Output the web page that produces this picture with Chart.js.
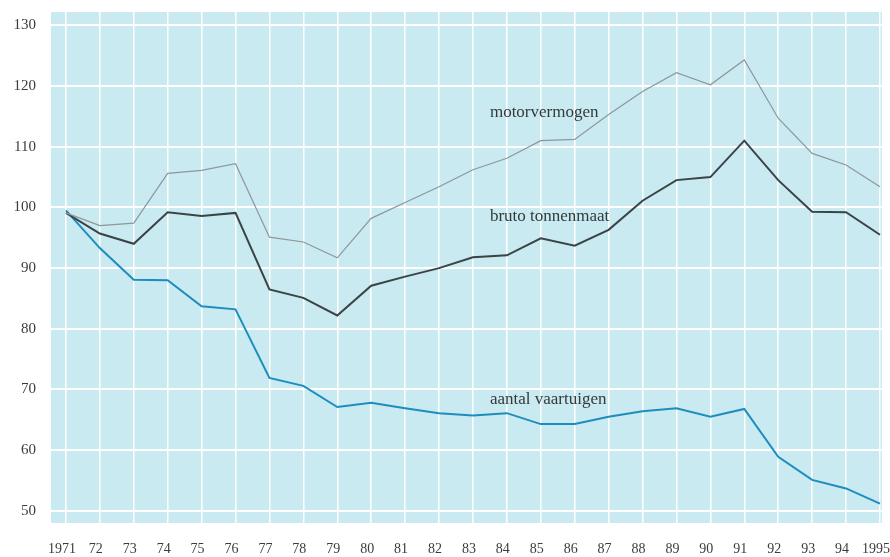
<!DOCTYPE html>
<html>
<head>
<meta charset="utf-8">
<script src="https://cdn.jsdelivr.net/npm/chart.js@4/dist/chart.umd.min.js"></script>
<style>
html,body{margin:0;padding:0;background:#fff;}
#wrap{width:890px;height:557px;position:relative;}
</style>
</head>
<body>
<div id="wrap"><canvas id="c"></canvas></div>
<script>
const years = [1971,1972,1973,1974,1975,1976,1977,1978,1979,1980,1981,1982,1983,1984,1985,1986,1987,1988,1989,1990,1991,1992,1993,1994,1995];
const motorvermogen = [99.1,97.0,97.4,105.6,106.1,107.2,95.1,94.3,91.7,98.2,100.8,103.4,106.2,108.1,111.0,111.2,115.3,119.1,122.2,120.2,124.3,114.7,108.9,107.0,103.4];
const brutoTonnenmaat = [99.1,95.7,94.0,99.2,98.6,99.1,86.5,85.1,82.2,87.1,88.6,90.0,91.8,92.1,94.9,93.7,96.3,101.1,104.5,105.0,111.0,104.5,99.3,99.2,95.5];
const aantalVaartuigen = [99.5,93.3,88.1,88.0,83.7,83.2,71.9,70.6,67.1,67.8,66.9,66.1,65.7,66.1,64.3,64.3,65.5,66.4,66.9,65.5,66.8,58.9,55.1,53.7,51.2];
const yTicks = [50,60,70,80,90,100,110,120,130];
const seriesLabels = ['motorvermogen','bruto tonnenmaat','aantal vaartuigen'];
const labelAnchors = [[1983.5,115.6],[1983.5,98.5],[1983.5,68.4]];

function pts(arr){ return arr.map((v,i)=>({x:years[i], y:v})); }

const bgPlugin = {
  id:'bg',
  beforeDraw(chart){
    const {ctx, chartArea:a} = chart;
    ctx.save();
    ctx.fillStyle = '#c8eaf0';
    ctx.fillRect(a.left, a.top, a.right-a.left, a.bottom-a.top);
    ctx.restore();
  }
};
const labelPlugin = {
  id:'lbls',
  afterDatasetsDraw(chart){
    const {ctx, scales:{x,y}} = chart;
    ctx.save();
    ctx.font = '17px "Liberation Serif", "DejaVu Serif", serif';
    ctx.fillStyle = '#343a3b';
    ctx.textBaseline = 'middle';
    ctx.textAlign = 'left';
    seriesLabels.forEach((t,i)=>{
      ctx.fillText(t, x.getPixelForValue(labelAnchors[i][0]), y.getPixelForValue(labelAnchors[i][1]));
    });
    ctx.restore();
  }
};

new Chart(document.getElementById('c'), {
  type:'line',
  data:{
    datasets:[
      {label:'motorvermogen', data:pts(motorvermogen), borderColor:'#8f9799', borderWidth:1.2, pointRadius:0, tension:0},
      {label:'bruto tonnenmaat', data:pts(brutoTonnenmaat), borderColor:'#3b4345', borderWidth:2, pointRadius:0, tension:0},
      {label:'aantal vaartuigen', data:pts(aantalVaartuigen), borderColor:'#1e8dbd', borderWidth:2, pointRadius:0, tension:0}
    ]
  },
  options:{
    responsive:true,
    maintainAspectRatio:false,
    animation:false,
    events:[],
    layout:{padding:{left:0, top:12, right:8, bottom:0}},
    plugins:{legend:{display:false}, tooltip:{enabled:false}},
    scales:{
      x:{
        type:'linear', min:1970.56, max:1995.06,
        afterBuildTicks(s){ s.ticks = years.map(v=>({value:v})); },
        afterFit(s){ s.height = 34; s.paddingLeft = 0; s.paddingRight = 0; },
        grid:{color:'#ffffff', lineWidth:1.5, drawTicks:false},
        border:{display:false},
        ticks:{
          padding:18, color:'#3c3c3c', maxRotation:0, autoSkip:false, labelOffset:-4,
          font:{family:'"Liberation Serif", "DejaVu Serif", serif', size:14},
          callback(v){ return (v===1971||v===1995) ? String(v) : String(v).slice(2); }
        }
      },
      y:{
        type:'linear', min:48, max:132.2,
        afterBuildTicks(s){ s.ticks = yTicks.map(v=>({value:v})); },
        afterFit(s){ s.width = 51; s.paddingTop = 0; s.paddingBottom = 0; },
        grid:{color:'#ffffff', lineWidth:2, drawTicks:false},
        border:{display:false},
        ticks:{
          padding:15, color:'#3c3c3c',
          font:{family:'"Liberation Serif", "DejaVu Serif", serif', size:15}
        }
      }
    }
  },
  plugins:[bgPlugin, labelPlugin]
});
</script>
</body>
</html>
